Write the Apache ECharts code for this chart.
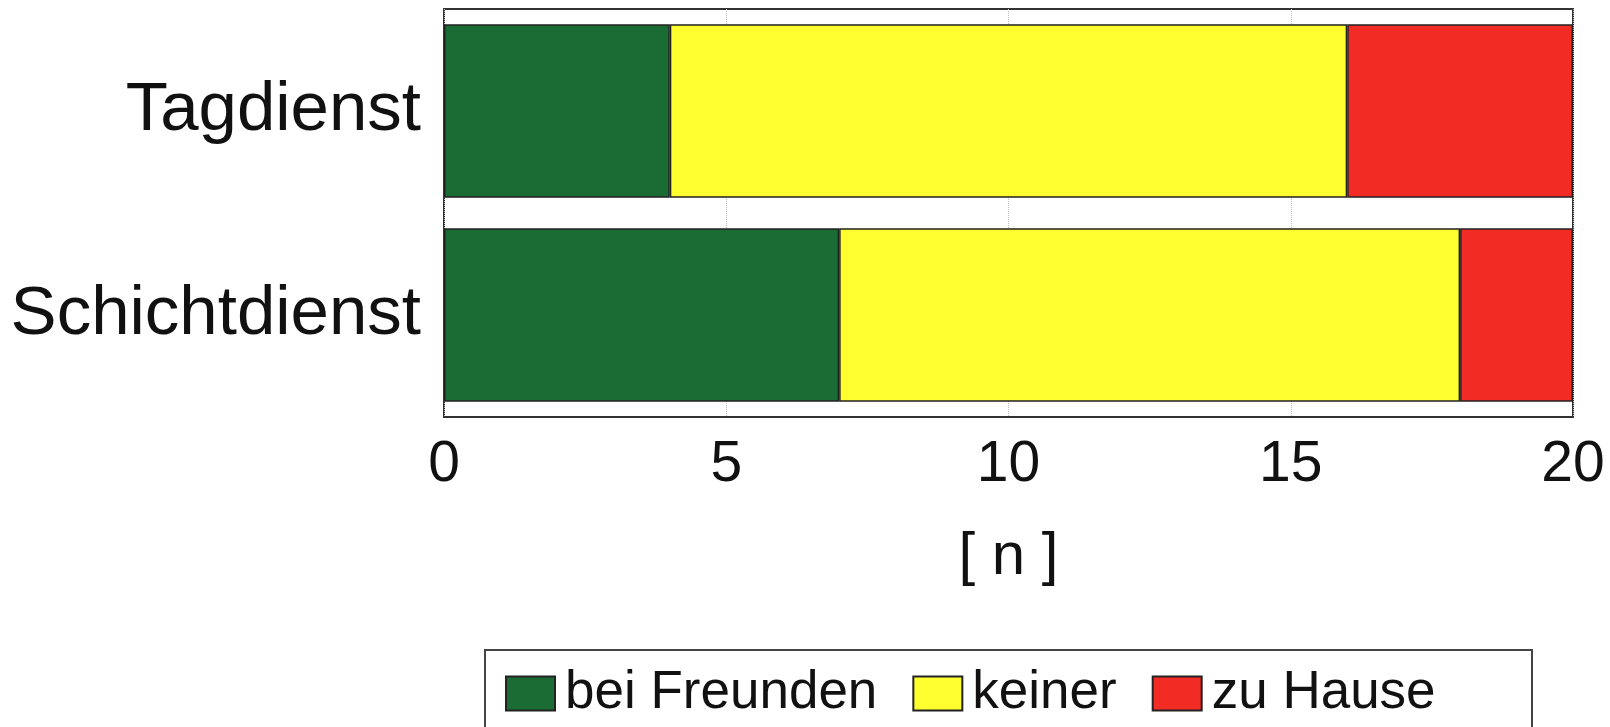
<!DOCTYPE html>
<html>
<head>
<meta charset="utf-8">
<script src="https://cdn.jsdelivr.net/npm/echarts@6/dist/echarts.min.js"></script>
<style>html,body{margin:0;padding:0;background:#fff}#c{width:1610px;height:727px}</style>
</head>
<body>
<div id="c"></div>
<script>
const categories = ['Tagdienst', 'Schichtdienst'];
const beiFreunden = [4, 7];
const keiner = [12, 11];
const zuHause = [4, 2];
const xTicks = [0, 5, 10, 15, 20];
const axisName = '[ n ]';

const FONT = '"Liberation Sans", Arial, sans-serif';
const chart = echarts.init(document.getElementById('c'), null, {renderer: 'canvas'});
const border = {borderColor: '#222', borderWidth: 1.5};
function mk(name, data, color) {
  return {
    name, type: 'bar', stack: 'total', data,
    barCategoryGap: '15%',
    itemStyle: Object.assign({color}, border)
  };
}
chart.setOption({
  animation: false,
  backgroundColor: '#fff',
  grid: {left: 444, right: 37, top: 9, height: 408, show: true, borderColor: '#333', borderWidth: 2, containLabel: false},
  xAxis: {
    type: 'value', min: 0, max: 20, interval: 5,
    name: axisName, nameLocation: 'middle', nameGap: 110,
    nameTextStyle: {fontFamily: FONT, fontSize: 60, color: '#111'},
    axisLine: {show: false},
    axisTick: {show: false},
    axisLabel: {fontFamily: FONT, fontSize: 57, color: '#111', margin: 20,
      formatter: v => xTicks.includes(v) ? String(v) : ''},
    splitLine: {show: true, lineStyle: {color: '#bbb', type: 'dotted', width: 1}}
  },
  yAxis: {
    type: 'category', data: categories, inverse: true,
    axisLine: {show: false}, axisTick: {show: false},
    axisLabel: {fontFamily: FONT, fontSize: 69, color: '#111', margin: 23}
  },
  legend: {
    left: 500, top: 662,
    itemWidth: 49, itemHeight: 34, itemGap: 35,
    icon: 'rect',
    textStyle: {fontFamily: FONT, fontSize: 53, color: '#111', padding: [0, 0, 0, 5]},
    data: ['bei Freunden', 'keiner', 'zu Hause']
  },
  graphic: [{
    type: 'rect', shape: {x: 485, y: 650, width: 1047, height: 100},
    style: {fill: 'none', stroke: '#444', lineWidth: 2}, z: -1
  }],
  series: [
    mk('bei Freunden', beiFreunden, '#1b6b35'),
    mk('keiner', keiner, '#ffff30'),
    mk('zu Hause', zuHause, '#f22b24')
  ]
});
</script>
</body>
</html>
